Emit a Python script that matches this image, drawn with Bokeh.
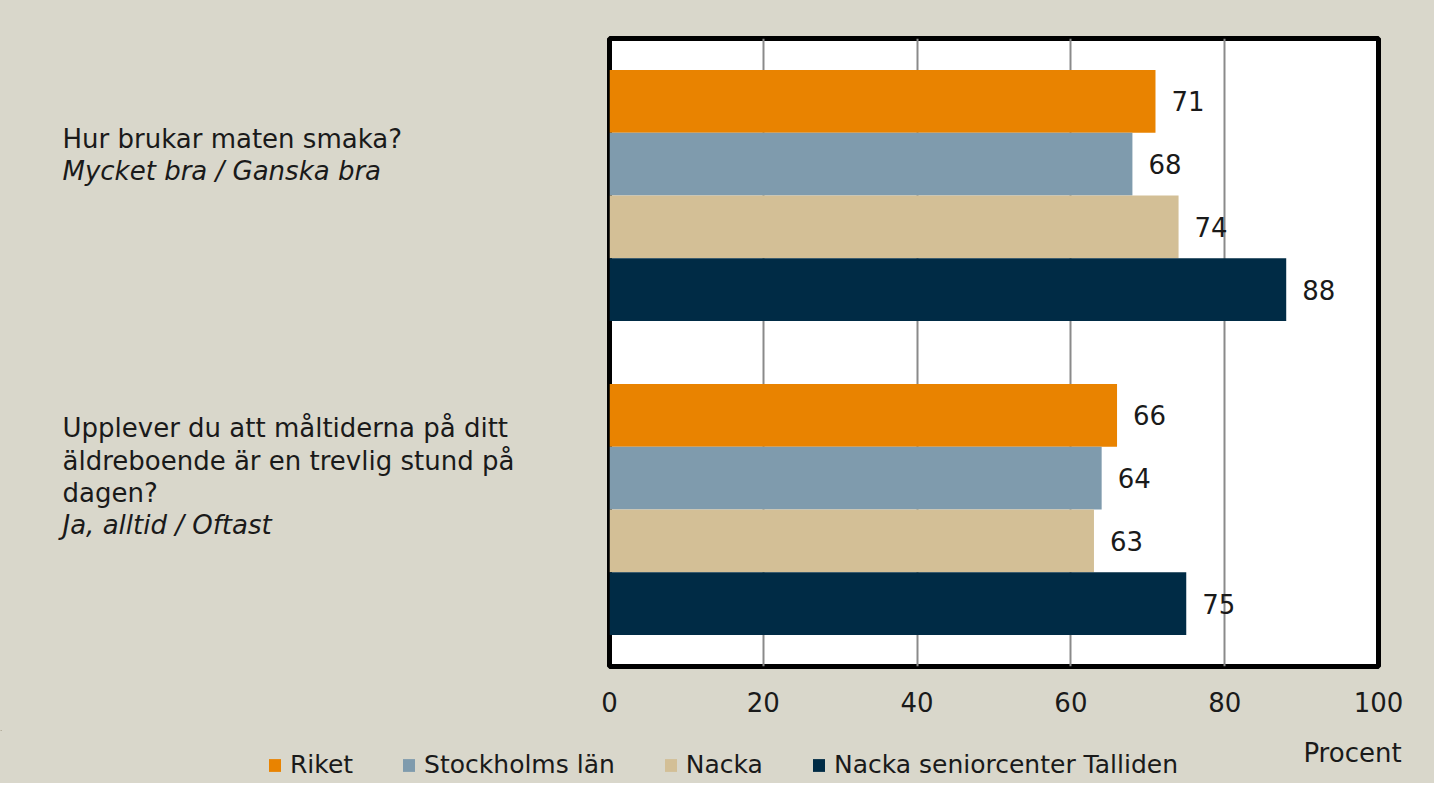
from bokeh.plotting import figure
from bokeh.layouts import column, row
from bokeh.models import ColumnDataSource, Legend, LegendItem, Range1d, FixedTicker
from bokeh.embed import file_html
from bokeh.resources import INLINE
from bokeh.core.properties import value

# ---- data ----
series = ["Riket", "Stockholms län", "Nacka", "Nacka seniorcenter Talliden"]
colors = ["#E98300", "#7F9BAD", "#D3BF96", "#002B45"]
q1_values = [71, 68, 74, 88]
q2_values = [66, 64, 63, 75]
x_ticks = [0, 20, 40, 60, 80, 100]
q1_lines = ["Hur brukar maten smaka?", "Mycket bra / Ganska bra"]
q1_italic = [False, True]
q2_lines = ["Upplever du att måltiderna på ditt", "äldreboende är en trevlig stund på",
            "dagen?", "Ja, alltid / Oftast"]
q2_italic = [False, False, False, True]
x_title = "Procent"

FONT = "DejaVu Sans"
TXT = "#1a1a1a"
BG = "#D9D7CB"

W, H = 1434, 783
LEFT_W = 600
TOP_H = 730
FR_TOP, FR_BOT = 38, 666

# ---- main chart ----
p = figure(width=W - LEFT_W, height=TOP_H, output_backend="svg", toolbar_location=None,
           x_range=Range1d(0, 100), y_range=Range1d(0, 10),
           min_border_left=9, min_border_right=56, min_border_top=FR_TOP,
           min_border_bottom=TOP_H - FR_BOT)
p.background_fill_color = "white"
p.border_fill_color = BG
p.outline_line_color = "black"
p.outline_line_width = 5
p.yaxis.visible = False
p.ygrid.visible = False
p.xgrid.ticker = FixedTicker(ticks=x_ticks[1:-1])
p.xgrid.grid_line_color = "#8a8a8a"
p.xgrid.grid_line_width = 2
p.xaxis.ticker = FixedTicker(ticks=x_ticks)
p.xaxis.axis_line_color = None
p.xaxis.major_tick_line_color = None
p.xaxis.minor_tick_line_color = None
p.xaxis.major_tick_out = 0
p.xaxis.major_tick_in = 0
p.xaxis.major_label_standoff = 25
p.xaxis.major_label_text_font = FONT
p.xaxis.major_label_text_font_size = "26px"
p.xaxis.major_label_text_color = TXT

for i, (name, col) in enumerate(zip(series, colors)):
    src = ColumnDataSource(dict(y=[9 - i, 4 - i], right=[q1_values[i], q2_values[i]],
                                lab=[str(q1_values[i]), str(q2_values[i])]))
    p.hbar(y="y", right="right", left=0, height=1, source=src,
           fill_color=col, line_color=None)
    p.text(x="right", y="y", text="lab", source=src, x_offset=16,
           text_baseline="middle", text_align="left", text_font=value(FONT),
           text_font_size="26px", text_color=TXT)

# ---- question texts (left panel; frame aligned with the chart frame) ----
q = figure(width=LEFT_W, height=TOP_H, output_backend="svg", toolbar_location=None,
           x_range=Range1d(0, LEFT_W), y_range=Range1d(FR_BOT, FR_TOP),
           min_border_left=0, min_border_right=0, min_border_top=FR_TOP,
           min_border_bottom=TOP_H - FR_BOT)
q.axis.visible = False
q.grid.visible = False
q.outline_line_color = None
q.background_fill_alpha = 0
q.border_fill_alpha = 0

lines = q1_lines + q2_lines
italic = q1_italic + q2_italic
base_px = [138, 170, 427, 460, 492, 524]
for txt, it, py in zip(lines, italic, base_px):
    q.text(x=[62], y=[py], text=[txt], text_font=value(FONT),
           text_font_size="26px", text_color=TXT,
           text_font_style="italic" if it else "normal",
           text_baseline="alphabetic", text_align="left")

# ---- legend strip ----
BOT_H = H - TOP_H
b = figure(width=W, height=BOT_H, output_backend="svg", toolbar_location=None,
           x_range=Range1d(0, W), y_range=Range1d(BOT_H, 0), min_border=0)
b.axis.visible = False
b.grid.visible = False
b.outline_line_color = None
b.background_fill_alpha = 0
b.border_fill_alpha = 0

items = []
for name, col in zip(series, colors):
    # proxy renderer (outside the visible strip) so the legend can draw its swatch
    r = b.hbar(y=[-1000], right=[1], left=0, height=1, fill_color=col, line_color=None)
    items.append(LegendItem(label=name, renderers=[r]))

legend = Legend(items=items, orientation="horizontal", location=(267, 4),
                padding=0, margin=0, spacing=48, label_standoff=8,
                glyph_width=15, glyph_height=16,
                label_text_font=FONT, label_text_font_size="25px",
                label_text_color=TXT, border_line_color=None,
                background_fill_alpha=0)
b.add_layout(legend, "center")

b.text(x=[1352], y=[752 - TOP_H], text=[x_title], text_font=value(FONT),
       text_font_size="26px", text_color=TXT, text_align="center",
       text_baseline="middle")

top = row(q, p, spacing=0, styles={"background-color": BG})
layout = column(top, b, spacing=0, styles={"background-color": BG})
open("out.html", "w").write(file_html(layout, INLINE))
